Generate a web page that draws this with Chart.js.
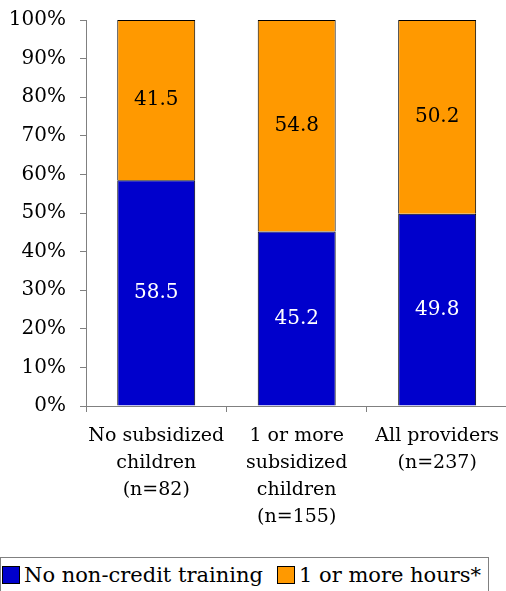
<!DOCTYPE html>
<html>
<head>
<meta charset="utf-8">
<script src="https://cdn.jsdelivr.net/npm/chart.js@4/dist/chart.umd.min.js"></script>
<style>
    body { margin: 0; background: #fff; }
    #wrap { position: relative; width: 506px; height: 591px; overflow: hidden; }
    #chart-box { position: absolute; left: 0; top: -6px; width: 510px; height: 556px; }
    #legend {
        position: absolute; left: 0; top: 557px; width: 489px; height: 40px;
        border: 1px solid #808080; box-sizing: border-box;
        font-family: "DejaVu Serif", serif; font-size: 21px; color: #000;
        white-space: nowrap;
    }
    #legend .item { position: absolute; top: 5px; }
    #legend .box {
        display: inline-block; width: 16px; height: 16px; border: 1px solid #000;
        vertical-align: -2px; margin-right: 4px;
    }
</style>
</head>
<body>
<div id="wrap">
    <div id="chart-box"><canvas id="trainingChart"></canvas></div>
    <div id="legend"></div>
</div>
<script>
// 数据
const categories = [
    ['No subsidized', 'children', '(n=82)'],
    ['1 or more', 'subsidized', 'children', '(n=155)'],
    ['All providers', '(n=237)']
];
const seriesNames = ['No non-credit training', '1 or more hours*'];
const noTraining = [58.5, 45.2, 49.8];
const oneOrMore = [41.5, 54.8, 50.2];
const yTicks = [0, 10, 20, 30, 40, 50, 60, 70, 80, 90, 100];

const FONT = '"DejaVu Serif", serif';

// 柱内数值标签
const barValueLabels = {
    id: 'barValueLabels',
    afterDatasetsDraw(chart) {
        const ctx = chart.ctx;
        ctx.save();
        ctx.font = '20px ' + FONT;
        ctx.textAlign = 'center';
        ctx.textBaseline = 'middle';
        chart.data.datasets.forEach((ds, i) => {
            const meta = chart.getDatasetMeta(i);
            meta.data.forEach((bar, j) => {
                const p = bar.getProps(['x', 'y', 'base'], true);
                ctx.fillStyle = ds.labelColor;
                ctx.fillText(ds.data[j].toFixed(1), p.x, (p.y + p.base) / 2);
            });
        });
        ctx.restore();
    }
};

const chart = new Chart(document.getElementById('trainingChart'), {
    type: 'bar',
    data: {
        labels: categories,
        datasets: [{
            label: seriesNames[0],
            data: noTraining,
            backgroundColor: '#0000CC',
            borderColor: '#000',
            borderWidth: 1,
            labelColor: '#fff'
        }, {
            label: seriesNames[1],
            data: oneOrMore,
            backgroundColor: '#FF9900',
            borderColor: '#000',
            borderWidth: 1,
            labelColor: '#000'
        }]
    },
    options: {
        responsive: true,
        maintainAspectRatio: false,
        animation: false,
        layout: { padding: { top: 14, right: 0, left: 0, bottom: 0 } },
        plugins: {
            legend: { display: false },
            tooltip: { enabled: false }
        },
        datasets: {
            bar: { barPercentage: 0.555, categoryPercentage: 1 }
        },
        scales: {
            x: {
                stacked: true,
                grid: { drawOnChartArea: false, tickLength: 6, color: '#808080', offset: true },
                border: { color: '#808080', width: 1 },
                ticks: {
                    color: '#000',
                    font: { family: FONT, size: 19, lineHeight: 1.42 },
                    padding: 11,
                    maxRotation: 0,
                    autoSkip: false
                },
                afterFit(scale) { scale.height = 144; }
            },
            y: {
                stacked: true,
                min: 0,
                max: 100,
                afterBuildTicks(scale) { scale.ticks = yTicks.map(v => ({ value: v })); },
                grid: { drawOnChartArea: false, tickLength: 6, color: '#808080' },
                border: { color: '#808080', width: 1 },
                ticks: {
                    color: '#000',
                    font: { family: FONT, size: 20 },
                    padding: 14,
                    callback: v => v + '%'
                },
                afterFit(scale) { scale.width = 86; }
            }
        }
    },
    plugins: [barValueLabels]
});

// 图例
const legendEl = document.getElementById('legend');
const legendX = [1, 276];
chart.data.datasets.forEach((ds, i) => {
    const item = document.createElement('span');
    item.className = 'item';
    item.style.left = legendX[i] + 'px';
    item.innerHTML = '<span class="box" style="background:' + ds.backgroundColor + '"></span>' + ds.label;
    legendEl.appendChild(item);
});
</script>
</body>
</html>
